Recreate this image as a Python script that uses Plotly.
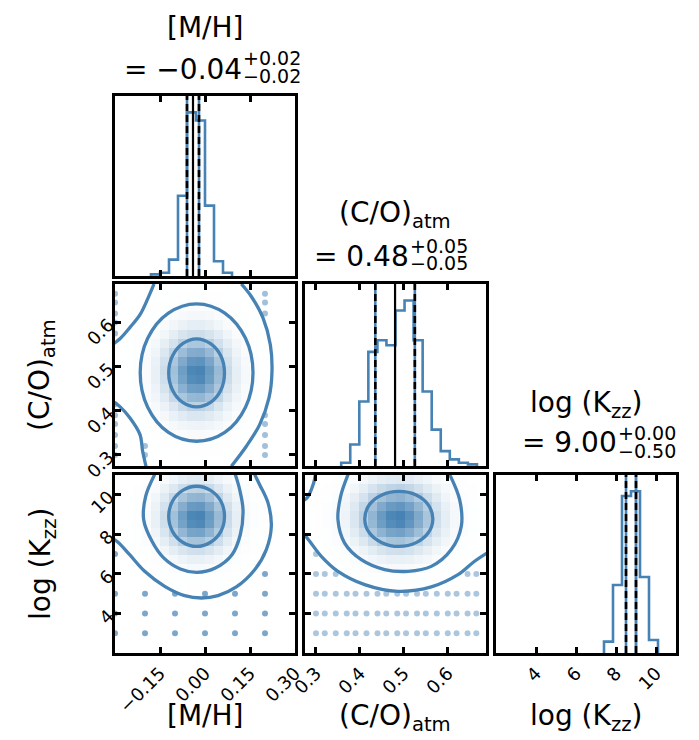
import plotly.graph_objects as go

# ---------------- data ----------------
mh_range = [-0.30, 0.30]
co_range = [0.275, 0.687]
kzz_range = [2.0, 11.0]
n_bins = 20

mh_hist = [0, 0, 0, 0, 1, 2, 10, 49, 100, 95, 43, 9, 2, 0, 0, 0, 0, 0, 0, 0]
co_hist = [0, 0, 0, 0, 2, 13, 39, 69, 76, 73, 94, 100, 76, 45, 22, 9, 4, 2, 1, 0]
kzz_hist = [0, 0, 0, 0, 0, 0, 0, 0, 0, 0, 0, 0, 7, 42, 97, 100, 47, 8, 0, 0]

mh_q = [-0.06, -0.04, -0.02]
co_q = [0.435, 0.48, 0.525]
kzz_q = [8.5, 9.0, 9.0]

mh_density = [0.02, 0.05, 0.11, 0.20, 0.34, 0.52, 0.71, 0.88, 0.98, 0.99,
              0.90, 0.74, 0.54, 0.36, 0.22, 0.12, 0.06, 0.03, 0.01, 0.0]
co_density = [0.03, 0.07, 0.12, 0.20, 0.31, 0.45, 0.61, 0.77, 0.90, 0.98,
              1.00, 0.94, 0.83, 0.68, 0.52, 0.37, 0.24, 0.15, 0.09, 0.05]
kzz_density = [0.0, 0.0, 0.0, 0.0, 0.004, 0.01, 0.025, 0.056, 0.11, 0.21,
               0.34, 0.51, 0.70, 0.87, 0.98, 1.00, 0.92, 0.78, 0.60, 0.41]

mh_ticks = [-0.15, 0.0, 0.15, 0.30]
mh_ticktext = ["\u22120.15", "0.00", "0.15", "0.30"]
co_ticks = [0.3, 0.4, 0.5, 0.6]
co_ticktext = ["0.3", "0.4", "0.5", "0.6"]
kzz_ticks = [4, 6, 8, 10]
kzz_ticktext = ["4", "6", "8", "10"]

c_mh_co_inner_x = [0.065, 0.053, 0.0185, -0.028, -0.0745, -0.1085, -0.121, -0.1085, -0.0745, -0.028, 0.0185, 0.053, 0.065]
c_mh_co_inner_y = [0.486, 0.524, 0.552, 0.563, 0.552, 0.524, 0.486, 0.447, 0.419, 0.409, 0.419, 0.447, 0.486]
c_mh_co_mid_x = [0.160, 0.135, 0.066, -0.028, -0.122, -0.191, -0.216, -0.191, -0.122, -0.028, 0.066, 0.135, 0.160]
c_mh_co_mid_y = [0.486, 0.564, 0.621, 0.642, 0.621, 0.564, 0.486, 0.408, 0.351, 0.331, 0.351, 0.408, 0.486]
c_mh_co_outL1_x = [-0.17, -0.19, -0.2167, -0.25, -0.2844, -0.3067]
c_mh_co_outL1_y = [0.687, 0.655, 0.6176, 0.5888, 0.5624, 0.551]
c_mh_co_outL2_x = [-0.3067, -0.2844, -0.25, -0.2167, -0.2078, -0.1967]
c_mh_co_outL2_y = [0.4214, 0.41, 0.3836, 0.346, 0.3083, 0.2744]
c_mh_co_outR_x = [0.1211, 0.1544, 0.1933, 0.2178, 0.2233, 0.2133, 0.1822, 0.1378, 0.0878]
c_mh_co_outR_y = [0.687, 0.6587, 0.6101, 0.5497, 0.4894, 0.4290, 0.3687, 0.3197, 0.2744]

c_mh_kzz_inner_x = [0.065, 0.053, 0.0185, -0.028, -0.0745, -0.1085, -0.121, -0.1085, -0.0745, -0.028, 0.0185, 0.053, 0.065]
c_mh_kzz_inner_y = [8.91, 9.67, 10.22, 10.43, 10.22, 9.67, 8.91, 8.15, 7.60, 7.39, 7.60, 8.15, 8.91]
c_mh_kzz_mid_x = [-0.1678, -0.1978, -0.2044, -0.1767, -0.1378, -0.0822, -0.0267, 0.0344, 0.09, 0.1178, 0.1267, 0.1156, 0.1011]
c_mh_kzz_mid_y = [11.02, 9.92, 8.74, 7.65, 6.81, 6.25, 6.08, 6.30, 6.97, 7.99, 9.25, 10.26, 11.02]
c_mh_kzz_out_x = [-0.312, -0.29, -0.2511, -0.2011, -0.1344, -0.0678, -0.0122, 0.0433, 0.1044, 0.1656, 0.2044, 0.2211, 0.21, 0.1822, 0.1656]
c_mh_kzz_out_y = [7.82, 7.60, 6.97, 6.13, 5.37, 4.90, 4.78, 4.90, 5.34, 6.21, 7.23, 8.41, 9.59, 10.51, 11.02]

c_co_kzz_inner_x = [0.566, 0.556, 0.528, 0.489, 0.450, 0.421, 0.411, 0.421, 0.450, 0.489, 0.528, 0.556, 0.566]
c_co_kzz_inner_y = [8.78, 9.48, 9.99, 10.17, 9.99, 9.48, 8.78, 8.09, 7.58, 7.39, 7.58, 8.09, 8.78]
c_co_kzz_mid_x = [0.3729, 0.3561, 0.3500, 0.3652, 0.4032, 0.4563, 0.5094, 0.5625, 0.6080, 0.6308, 0.6270, 0.6043]
c_co_kzz_mid_y = [11.02, 9.92, 8.74, 7.56, 6.72, 6.22, 6.13, 6.38, 7.23, 8.41, 9.75, 11.02]
c_co_kzz_out_x = [0.2704, 0.2856, 0.3121, 0.3500, 0.4108, 0.4867, 0.5625, 0.6232, 0.6611, 0.6953]
c_co_kzz_out_y = [8.07, 7.65, 6.89, 6.13, 5.46, 5.12, 5.34, 5.96, 6.64, 7.14]
c_co_kzz_out2_x = [0.2705, 0.2795, 0.2947, 0.2985]
c_co_kzz_out2_y = [9.70, 9.84, 10.60, 11.02]

mh_grid = [-0.3, -0.2, -0.1, 0.0, 0.1, 0.2]
co_grid = [0.30, 0.32, 0.345, 0.37, 0.39, 0.415, 0.44, 0.46, 0.485, 0.505,
           0.53, 0.55, 0.575, 0.60, 0.62, 0.645, 0.665]
kzz_low = [3, 4, 5]

dots_mh_co_x = [0.2] * 8 + [-0.3] * 11 + [-0.2] * 2
dots_mh_co_y = [0.665, 0.645, 0.62, 0.39, 0.37, 0.345, 0.32, 0.30,
                0.665, 0.645, 0.62, 0.60, 0.575, 0.415, 0.39, 0.37, 0.345, 0.32, 0.30,
                0.32, 0.30]
dots_mh_kzz_extra_x = [0.2, -0.3]
dots_mh_kzz_extra_y = [6, 7]
dots_co_kzz_extra_x = [0.30, 0.32, 0.345, 0.645, 0.665, 0.30]
dots_co_kzz_extra_y = [6, 6, 6, 6, 6, 7]

# ---------------- styling ----------------
BLUE = "#4682b4"
FONT = "DejaVu Sans"
W, H = 699, 740
col_px = [(107, 287), (297, 478), (488, 668)]
row_px = [(88, 268), (276, 458), (467, 645)]

ranges = {"mh": mh_range, "co": co_range, "kzz": kzz_range}
ticks = {"mh": (mh_ticks, mh_ticktext), "co": (co_ticks, co_ticktext), "kzz": (kzz_ticks, kzz_ticktext)}
dens = {"mh": mh_density, "co": co_density, "kzz": kzz_density}
hists = {"mh": mh_hist, "co": co_hist, "kzz": kzz_hist}
quants = {"mh": mh_q, "co": co_q, "kzz": kzz_q}


def edges(v):
    a, b = ranges[v]
    return [a + (b - a) * i / n_bins for i in range(n_bins + 1)]


def centers(v):
    e = edges(v)
    return [(e[i] + e[i + 1]) / 2 for i in range(n_bins)]


def dom_x(c):
    a, b = col_px[c]
    return [a / W, b / W]


def dom_y(r):
    a, b = row_px[r]
    return [1 - b / H, 1 - a / H]


panels = [(0, 0, "mh", None), (1, 0, "mh", "co"), (1, 1, "co", None),
          (2, 0, "mh", "kzz"), (2, 1, "co", "kzz"), (2, 2, "kzz", None)]

fig = go.Figure()
layout = dict(width=W, height=H, autosize=False,
              margin=dict(l=0, r=0, t=0, b=0, pad=0, autoexpand=False),
              paper_bgcolor="white", plot_bgcolor="white", showlegend=False,
              font=dict(family=FONT, color="black"))

cs = []
for i in range(11):
    t = i / 10
    m = t * t
    r = round(255 + (70 - 255) * m)
    g = round(255 + (130 - 255) * m)
    b = round(255 + (180 - 255) * m)
    cs.append([t, f"rgb({r},{g},{b})"])

axis_common = dict(showgrid=False, zeroline=False, showline=True, linecolor="black",
                   linewidth=2.5, tickcolor="black", tickwidth=2.5, ticklen=6,
                   tickfont=dict(family=FONT, size=18, color="black"), tickangle=-45,
                   automargin=False)

contours = {
    ("mh", "co"): [(c_mh_co_inner_x, c_mh_co_inner_y), (c_mh_co_mid_x, c_mh_co_mid_y),
                   (c_mh_co_outL1_x, c_mh_co_outL1_y), (c_mh_co_outL2_x, c_mh_co_outL2_y),
                   (c_mh_co_outR_x, c_mh_co_outR_y)],
    ("mh", "kzz"): [(c_mh_kzz_inner_x, c_mh_kzz_inner_y), (c_mh_kzz_mid_x, c_mh_kzz_mid_y),
                    (c_mh_kzz_out_x, c_mh_kzz_out_y)],
    ("co", "kzz"): [(c_co_kzz_inner_x, c_co_kzz_inner_y), (c_co_kzz_mid_x, c_co_kzz_mid_y),
                    (c_co_kzz_out_x, c_co_kzz_out_y), (c_co_kzz_out2_x, c_co_kzz_out2_y)],
}

dots = {
    ("mh", "co"): (dots_mh_co_x, dots_mh_co_y, 0.5),
    ("mh", "kzz"): ([m for k in kzz_low for m in mh_grid] + dots_mh_kzz_extra_x,
                    [k for k in kzz_low for m in mh_grid] + dots_mh_kzz_extra_y, 0.7),
    ("co", "kzz"): ([c for k in kzz_low for c in co_grid] + dots_co_kzz_extra_x,
                    [k for k in kzz_low for c in co_grid] + dots_co_kzz_extra_y, 0.45),
}

for idx, (r, c, xv, yv) in enumerate(panels, start=1):
    xa = "x" if idx == 1 else f"x{idx}"
    ya = "y" if idx == 1 else f"y{idx}"
    xkey = "xaxis" if idx == 1 else f"xaxis{idx}"
    ykey = "yaxis" if idx == 1 else f"yaxis{idx}"
    tv, tt = ticks[xv]
    layout[xkey] = dict(axis_common, domain=dom_x(c), range=ranges[xv], anchor=ya,
                        tickvals=tv, ticktext=tt, showticklabels=(r == 2),
                        ticks="inside", mirror="ticks")
    if yv is None:
        h = hists[xv]
        top = 1.1 * max(h)
        e = edges(xv)
        nz = [i for i, v in enumerate(h) if v > 0]
        i0, i1 = nz[0], nz[-1]
        xs = [e[i0]] + e[i0:i1 + 1] + [e[i1 + 1]]
        ys = [0] + h[i0:i1 + 1] + [0]
        fig.add_trace(go.Scatter(x=xs, y=ys, mode="lines", xaxis=xa, yaxis=ya,
                                 line=dict(color=BLUE, width=2.6, shape="hv"), hoverinfo="skip"))
        for qi, qv in enumerate(quants[xv]):
            if qi == 1:
                fig.add_trace(go.Scatter(x=[qv, qv], y=[0, top], mode="lines", xaxis=xa, yaxis=ya,
                                         line=dict(color="black", width=2.2)))
            else:
                fig.add_trace(go.Scatter(x=[qv, qv], y=[0, top], mode="lines", xaxis=xa, yaxis=ya,
                                         line=dict(color=BLUE, width=2.6)))
                fig.add_trace(go.Scatter(x=[qv, qv], y=[0, top], mode="lines", xaxis=xa, yaxis=ya,
                                         line=dict(color="black", width=2.6, dash="7px,4px")))
        layout[ykey] = dict(axis_common, domain=dom_y(r), range=[0, top], anchor=xa,
                            ticks="", showticklabels=False, mirror=True)
    else:
        ytv, ytt = ticks[yv]
        layout[ykey] = dict(axis_common, domain=dom_y(r), range=ranges[yv], anchor=xa,
                            tickvals=ytv, ticktext=ytt, showticklabels=(c == 0),
                            ticks="inside", mirror="ticks")
        z = [[dy * dx for dx in dens[xv]] for dy in dens[yv]]
        fig.add_trace(go.Heatmap(x=centers(xv), y=centers(yv), z=z, xaxis=xa, yaxis=ya,
                                 colorscale=cs, zmin=0, zmax=1, showscale=False, hoverinfo="skip"))
        dx_, dy_, op = dots[(xv, yv)]
        fig.add_trace(go.Scatter(x=dx_, y=dy_, mode="markers", xaxis=xa, yaxis=ya,
                                 marker=dict(color=BLUE, size=6, opacity=op)))
        for cx, cy in contours[(xv, yv)]:
            fig.add_trace(go.Scatter(x=cx, y=cy, mode="lines", xaxis=xa, yaxis=ya,
                                     line=dict(color=BLUE, width=3.3, shape="spline", smoothing=1.0)))

# ---------------- text ----------------
ann = []
big = 28
small = 19


def add(text, x, y, size, xanchor="center", yanchor="middle", angle=0):
    ann.append(dict(text=text, x=x / W, y=1 - y / H, xref="paper", yref="paper",
                    showarrow=False, xanchor=xanchor, yanchor=yanchor, textangle=angle,
                    borderpad=0, font=dict(family=FONT, size=size, color="black")))


# (name, value, upper, lower, column, name_y, value_y, upper_y, lower_y, split_x)
titles = [("[M/H]", "= \u22120.04", "+0.02", "\u22120.02", 0, 20, 61, 50, 68, 235),
          ("(C/O)<sub>atm</sub>", "= 0.48", "+0.05", "\u22120.05", 1, 206, 248, 238, 255, 402),
          ("log (K<sub>zz</sub>)", "= 9.00", "+0.00", "\u22120.50", 2, 397, 434, 425, 443, 610)]
for (name, val, up, lo, c, ny, vy, uy, ly, sx) in titles:
    cx = (col_px[c][0] + col_px[c][1]) / 2
    add(name, cx, ny, big)
    add(val, sx, vy, big, xanchor="right")
    add(up, sx - 1, uy, small, xanchor="left")
    add(lo, sx - 1, ly, small, xanchor="left")

add("[M/H]", (col_px[0][0] + col_px[0][1]) / 2, 707, big)
add("(C/O)<sub>atm</sub>", (col_px[1][0] + col_px[1][1]) / 2, 709, big)
add("log (K<sub>zz</sub>)", (col_px[2][0] + col_px[2][1]) / 2, 709, big)
add("(C/O)<sub>atm</sub>", 34, (row_px[1][0] + row_px[1][1]) / 2, big, angle=-90)
add("log (K<sub>zz</sub>)", 34, (row_px[2][0] + row_px[2][1]) / 2, big, angle=-90)

layout["annotations"] = ann
fig.update_layout(**layout)
fig.write_html("out.html")
